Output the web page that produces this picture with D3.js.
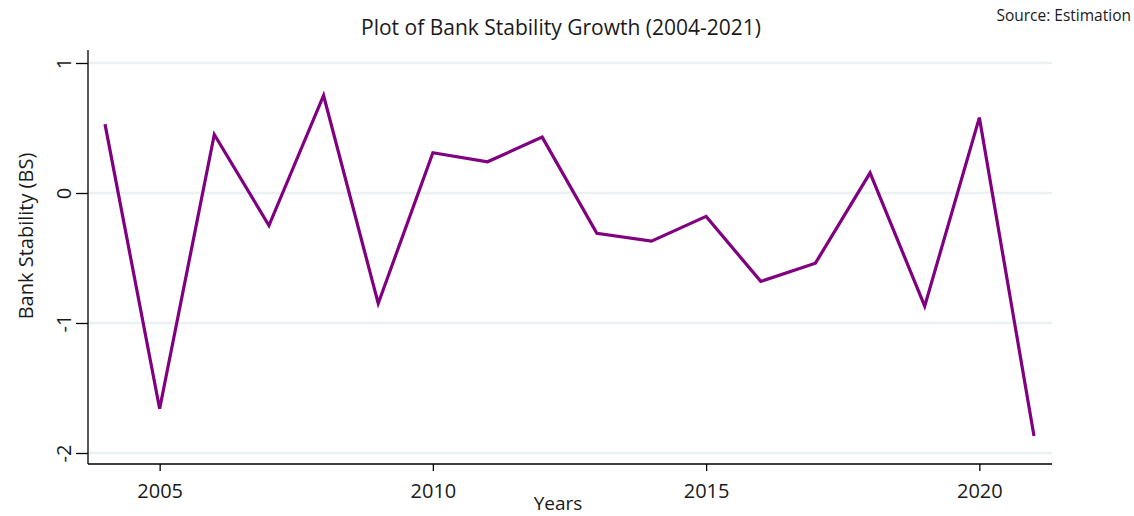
<!DOCTYPE html>
<html><head><meta charset="utf-8">
<script src="https://cdn.jsdelivr.net/npm/d3@7"></script>
<style>body{margin:0;background:#fff;} text{font-family:"Open Sans",sans-serif;}</style>
</head><body><svg id="c" width="1134" height="516"></svg>
<script>
const years = [2004,2005,2006,2007,2008,2009,2010,2011,2012,2013,2014,2015,2016,2017,2018,2019,2020,2021];
const bs = [0.53,-1.66,0.45,-0.25,0.75,-0.85,0.31,0.24,0.43,-0.31,-0.37,-0.18,-0.68,-0.54,0.155,-0.87,0.58,-1.87];
const xTicks = [2005,2010,2015,2020];
const yTicks = [1,0,-1,-2];
const titleText = "Plot of Bank Stability Growth (2004-2021)";
const sourceText = "Source: Estimation";
const xTitle = "Years";
const yTitle = "Bank Stability (BS)";

const svg = d3.select("#c");
const x = d3.scaleLinear().domain([2004,2021]).range([105,1034]);
const y = d3.scaleLinear().domain([-2,1]).range([453,63]);
const pL = 88, pR = 1052, pT = 50, pB = 464;
const ink = "#1a1a1a";

svg.append("g").selectAll("line").data(yTicks).join("line")
  .attr("x1", pL).attr("x2", pR).attr("y1", d=>y(d)).attr("y2", d=>y(d))
  .attr("stroke","#eaf1f2").attr("stroke-width",2.5);

svg.append("line").attr("x1",pL).attr("x2",pL).attr("y1",pT).attr("y2",pB)
  .attr("stroke","#000").attr("stroke-width",1.3);
svg.append("line").attr("x1",pL).attr("x2",pR).attr("y1",pB).attr("y2",pB)
  .attr("stroke","#000").attr("stroke-width",1.3);

const fmt = d => String(d);

const yAxis = svg.append("g").attr("transform",`translate(${pL},0)`)
  .call(d3.axisLeft(y).tickValues(yTicks).tickSize(12).tickPadding(0).tickFormat(fmt));
yAxis.select(".domain").remove();
yAxis.selectAll(".tick line").attr("stroke","#000").attr("stroke-width",1.3);
yAxis.selectAll(".tick text").attr("transform","rotate(-90)").attr("x",0).attr("y",-17)
  .attr("dy","0").attr("text-anchor","middle").style("font-size","20px").attr("fill",ink)
  .style("font-family","Open Sans");

const xAxis = svg.append("g").attr("transform",`translate(0,${pB})`)
  .call(d3.axisBottom(x).tickValues(xTicks).tickSize(7).tickPadding(0).tickFormat(fmt));
xAxis.select(".domain").remove();
xAxis.selectAll(".tick line").attr("stroke","#000").attr("stroke-width",1.3);
xAxis.selectAll(".tick text").attr("y",34).attr("dy",0).style("font-size","20px").attr("fill",ink)
  .style("font-family","Open Sans");

svg.append("path").datum(years.map((yr,i)=>[yr,bs[i]]))
  .attr("d", d3.line().x(d=>x(d[0])).y(d=>y(d[1])))
  .attr("fill","none").attr("stroke","#800080").attr("stroke-width",3.2).attr("stroke-linejoin","miter");

svg.append("text").attr("x",561).attr("y",35).attr("text-anchor","middle")
  .style("font-size","21px").attr("fill",ink).text(titleText);
svg.append("text").attr("x",1131).attr("y",21).attr("text-anchor","end")
  .style("font-size","15.5px").attr("fill",ink).text(sourceText);
svg.append("text").attr("x",558).attr("y",510).attr("text-anchor","middle")
  .style("font-size","19px").attr("fill",ink).text(xTitle);
svg.append("text").attr("transform","translate(33,236) rotate(-90)").attr("text-anchor","middle")
  .style("font-size","20px").attr("fill",ink).text(yTitle);
</script></body></html>
